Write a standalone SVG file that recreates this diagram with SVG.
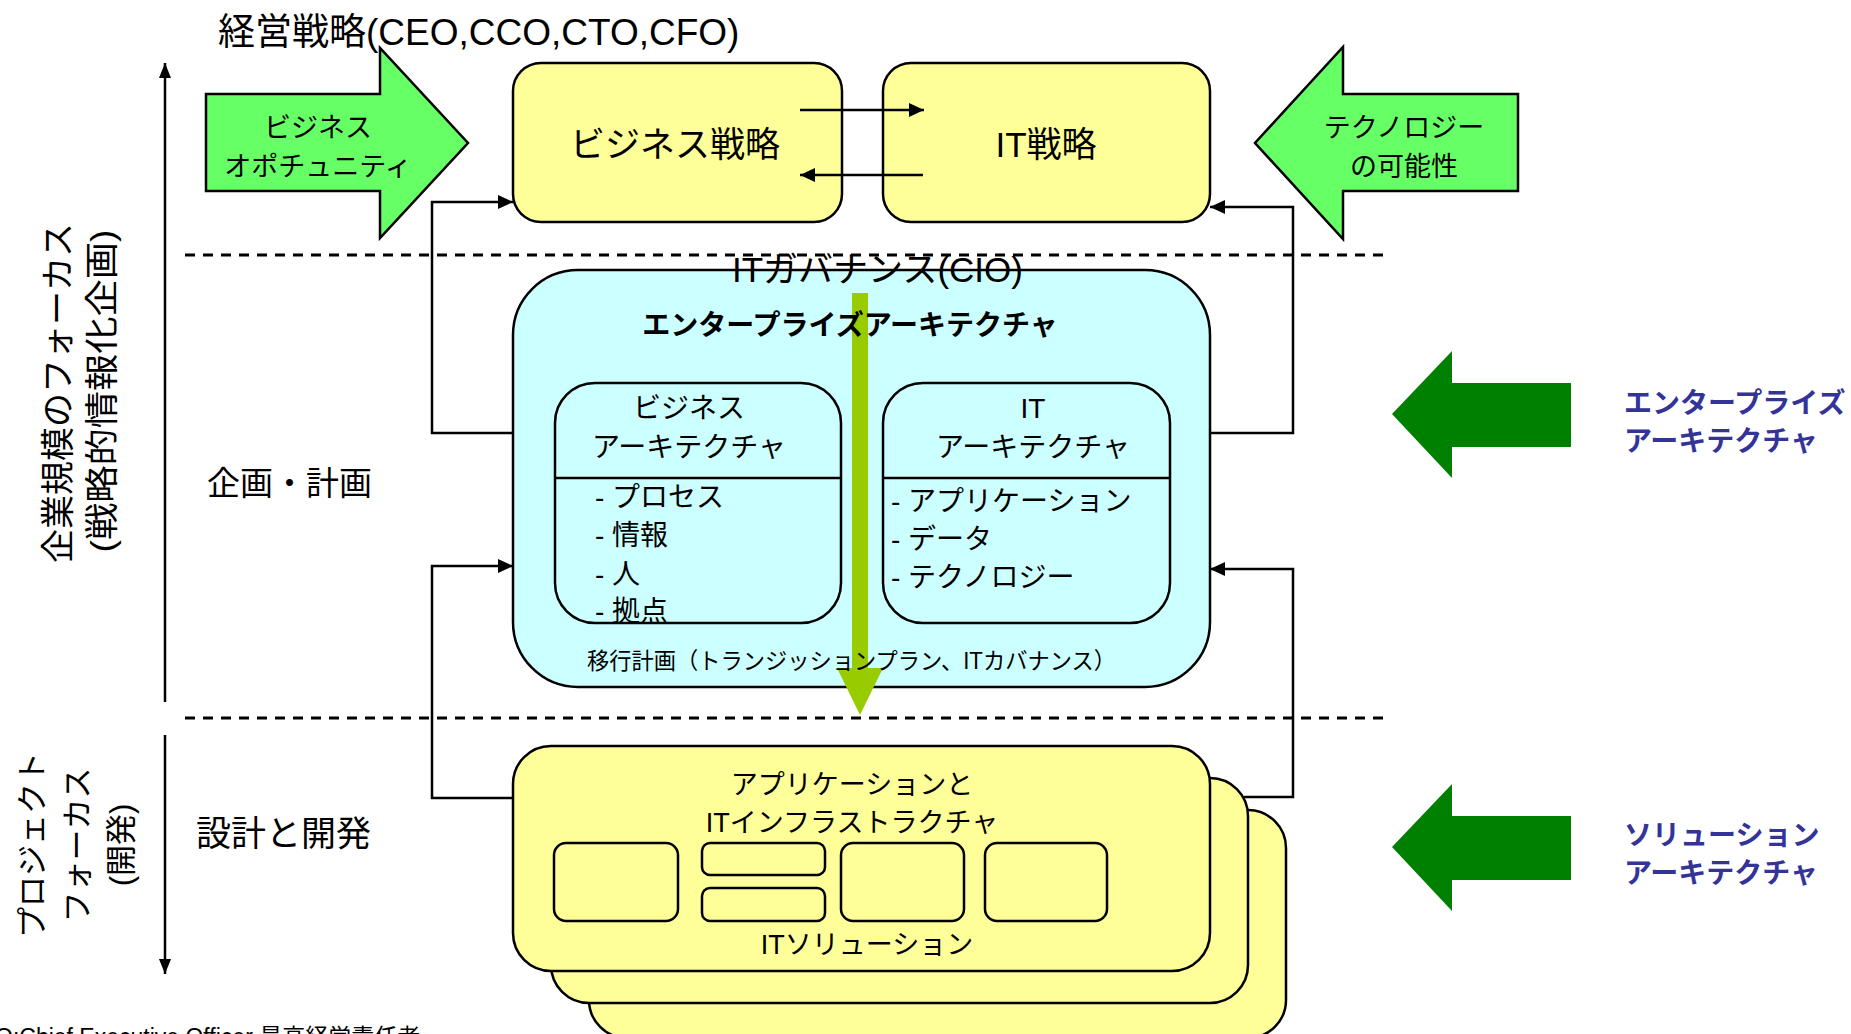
<svg xmlns="http://www.w3.org/2000/svg" width="1851" height="1034" viewBox="0 0 1851 1034">
<defs>
<style>
text{font-family:"Liberation Sans","Noto Sans CJK JP",sans-serif;fill:#000}
.box{stroke:#000;stroke-width:2.5}
.yel{fill:#FFFF99}
.cy{fill:#CCFFFF}
.lg{fill:#66FF66;stroke:#000;stroke-width:2.5;stroke-linejoin:miter}
.dg{fill:#008000}
.conn{fill:none;stroke:#000;stroke-width:2.5}
.dash{stroke:#000;stroke-width:3;stroke-dasharray:10 8}
.b{font-weight:bold}
.blue{fill:#333399;font-weight:bold}
.mid{text-anchor:middle}
</style>
<marker id="ah" markerUnits="userSpaceOnUse" markerWidth="15" markerHeight="14" viewBox="0 0 15 14" refX="15" refY="7" orient="auto"><path d="M0,0 L15,7 L0,14 z" fill="#000"/></marker>
<marker id="ah2" markerUnits="userSpaceOnUse" markerWidth="15" markerHeight="12" viewBox="0 0 15 12" refX="15" refY="6" orient="auto"><path d="M0,0 L15,6 L0,12 z" fill="#000"/></marker>
</defs>
<rect width="1851" height="1034" fill="#fff"/>

<g id="guides">
<line class="dash" x1="185" y1="255" x2="1391" y2="255"/>
<line class="dash" x1="185" y1="718" x2="1391" y2="718"/>
<line x1="165" y1="702" x2="165" y2="63" stroke="#000" stroke-width="2.5" marker-end="url(#ah2)"/>
<line x1="165" y1="735" x2="165" y2="974" stroke="#000" stroke-width="2.5" marker-end="url(#ah2)"/>
</g>

<g id="title">
<text x="218" y="45" font-size="37">経営戦略(CEO,CCO,CTO,CFO)</text>
</g>

<g id="business-opportunity">
<polygon class="lg" points="206,94 380,94 380,48 468,143 380,238 380,191 206,191"/>
<text class="mid" x="318" y="137" font-size="27">ビジネス</text>
<text class="mid" x="318" y="176" font-size="27">オポチュニティ</text>
</g>

<g id="technology-possibility">
<polygon class="lg" points="1518,94 1343,94 1343,47 1255,143 1343,239 1343,191 1518,191"/>
<text class="mid" x="1404" y="137" font-size="27">テクノロジー</text>
<text class="mid" x="1404" y="176" font-size="27">の可能性</text>
</g>

<g id="business-strategy">
<rect class="box yel" x="513" y="63" width="329" height="159" rx="28"/>
<text class="mid" x="675" y="157" font-size="35">ビジネス戦略</text>
</g>

<g id="it-strategy">
<rect class="box yel" x="883" y="63" width="327" height="159" rx="28"/>
<text class="mid" x="1046" y="157" font-size="35">IT戦略</text>
</g>

<g id="enterprise-architecture">
<rect class="box cy" x="513" y="270" width="697" height="417" rx="65"/>
<rect class="box cy" x="555" y="383" width="286" height="240" rx="40"/>
<line x1="555" y1="478" x2="841" y2="478" stroke="#000" stroke-width="2.5"/>
<rect class="box cy" x="883" y="383" width="287" height="240" rx="40"/>
<line x1="883" y1="478" x2="1170" y2="478" stroke="#000" stroke-width="2.5"/>
</g>

<g id="governance-arrow">
<polygon fill="#99CC00" points="852,293 868,293 868,668 883,668 860,715 837,668 852,668"/>
</g>

<g id="it-governance-label">
<text x="732" y="282" font-size="35">ITガバナンス(CIO)</text>
</g>

<g id="enterprise-architecture-labels">
<text class="mid b" x="850" y="335" font-size="28">エンタープライズアーキテクチャ</text>
<text class="mid" x="689" y="418" font-size="28">ビジネス</text>
<text class="mid" x="689" y="457" font-size="28">アーキテクチャ</text>
<text x="595" y="507" font-size="28">- プロセス</text>
<text x="595" y="545" font-size="28">- 情報</text>
<text x="595" y="584" font-size="28">- 人</text>
<text x="595" y="621" font-size="28">- 拠点</text>
<text class="mid" x="1033" y="418" font-size="28">IT</text>
<text class="mid" x="1033" y="457" font-size="28">アーキテクチャ</text>
<text x="891" y="511" font-size="28">- アプリケーション</text>
<text x="891" y="549" font-size="28">- データ</text>
<text x="891" y="587" font-size="28">- テクノロジー</text>
<text x="587" y="669" font-size="23" textLength="529" lengthAdjust="spacingAndGlyphs">移行計画（トランジッションプラン、ITカバナンス）</text>
</g>

<g id="it-solutions">
<rect class="box yel" x="589" y="810" width="697" height="228" rx="38"/>
<rect class="box yel" x="551" y="778" width="697" height="225" rx="38"/>
<rect class="box yel" x="513" y="746" width="697" height="225" rx="38"/>
<rect class="box yel" x="554" y="843" width="124" height="78" rx="12"/>
<rect class="box yel" x="702" y="843" width="123" height="32" rx="8"/>
<rect class="box yel" x="702" y="888" width="123" height="33" rx="8"/>
<rect class="box yel" x="841" y="843" width="123" height="78" rx="12"/>
<rect class="box yel" x="985" y="843" width="122" height="78" rx="12"/>
<text class="mid" x="852" y="794" font-size="27">アプリケーションと</text>
<text class="mid" x="852" y="832" font-size="27">ITインフラストラクチャ</text>
<text class="mid" x="867" y="954" font-size="27">ITソリューション</text>
</g>

<g id="ea-arrow">
<polygon class="dg" points="1392,414 1452,351 1452,383 1571,383 1571,447 1452,447 1452,478"/>
<text class="blue" x="1624" y="413" font-size="28">エンタープライズ</text>
<text class="blue" x="1624" y="451" font-size="28">アーキテクチャ</text>
</g>

<g id="sa-arrow">
<polygon class="dg" points="1392,847 1452,784 1452,816 1571,816 1571,880 1452,880 1452,911"/>
<text class="blue" x="1624" y="845" font-size="28">ソリューション</text>
<text class="blue" x="1624" y="883" font-size="28">アーキテクチャ</text>
</g>

<g id="side-labels">
<text transform="translate(70,393) rotate(-90)" class="mid" font-size="34">企業規模のフォーカス</text>
<text transform="translate(114,391) rotate(-90)" class="mid" font-size="34" textLength="323" lengthAdjust="spacingAndGlyphs">(戦略的情報化企画)</text>
<text x="207" y="495" font-size="33">企画・計画</text>
<text transform="translate(43,845) rotate(-90)" class="mid" font-size="31">プロジェクト</text>
<text transform="translate(88,845) rotate(-90)" class="mid" font-size="31">フォーカス</text>
<text transform="translate(132,845) rotate(-90)" class="mid" font-size="31">(開発)</text>
<text x="196" y="846" font-size="35">設計と開発</text>
</g>

<g id="footer">
<text x="-5" y="1045" font-size="23">O:Chief Executive Officer 最高経営責任者</text>
</g>

<g id="connectors">
<path class="conn" d="M513,433 H432 V202 H513" marker-end="url(#ah)"/>
<path class="conn" d="M513,798 H432 V566 H513" marker-end="url(#ah)"/>
<path class="conn" d="M1210,433 H1293 V207 H1210" marker-end="url(#ah)"/>
<path class="conn" d="M1244,797 H1293 V569 H1210" marker-end="url(#ah)"/>
<path class="conn" d="M800,110 H924" marker-end="url(#ah)"/>
<path class="conn" d="M923,175 H800" marker-end="url(#ah)"/>
</g>
</svg>
